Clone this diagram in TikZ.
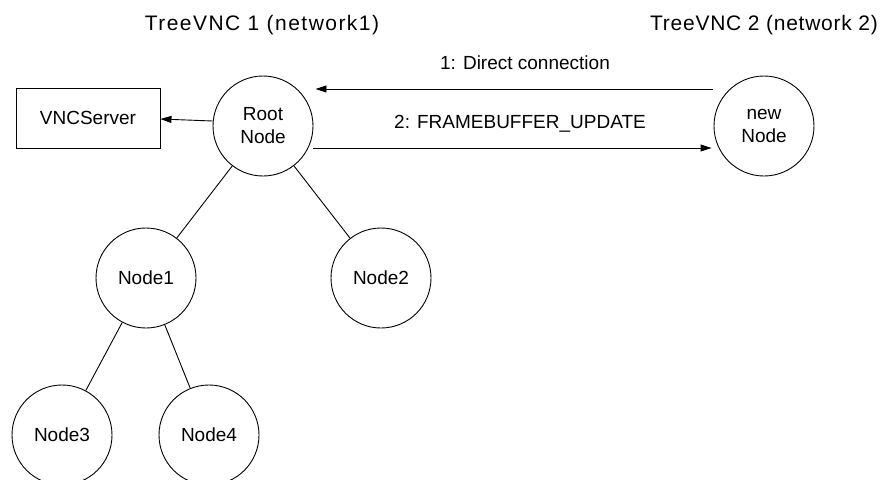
\documentclass[tikz,border=0pt]{standalone}
\usepackage{fontspec}
\setmainfont{Liberation Sans}
\usetikzlibrary{arrows.meta}
\begin{document}
\begin{tikzpicture}[x=1pt,y=-1pt,
  every node/.style={font=\fontsize{19}{23}\selectfont},
  circ/.style={draw,circle,minimum size=100pt,inner sep=0pt,align=center,line width=0.9pt},
  boxn/.style={draw,rectangle,minimum width=144pt,minimum height=60pt,inner sep=0pt,line width=0.9pt},
  arr/.style={line width=0.9pt,-{Triangle[length=11pt,width=7pt]}},
  edge/.style={line width=0.9pt}]
\useasboundingbox (0,0) rectangle (883,479);
\node[font=\fontsize{21}{24}\selectfont\addfontfeature{LetterSpace=7}] (t1) at (262,25) {TreeVNC 1 (network1)};
\node[font=\fontsize{21}{24}\selectfont\addfontfeature{LetterSpace=3.5}] (t2) at (764,25) {TreeVNC 2 (network 2)};
\node[circ] (root) at (263,126) {Root\\Node};
\node[circ] (new) at (764,126) {new\\Node};
\node[boxn] (vnc) at (88,118) {VNCServer};
\node[circ] (n1) at (146,278) {Node1};
\node[circ] (n2) at (381,278) {Node2};
\node[circ] (n3) at (62,435) {Node3};
\node[circ] (n4) at (209,435) {Node4};
\node (l1) at (525,63) {1: Direct connection};
\node (l2) at (520,124) {2: FRAMEBUFFER\_UPDATE};
\draw[arr] ([yshift=5pt]root.west) -- ([yshift=-1pt]vnc.east);
\draw[arr] ([xshift=-1pt,yshift=37pt]new.west) -- ([xshift=2pt,yshift=37pt]root.east);
\draw[arr] ([yshift=-22pt]root.east) -- ([xshift=-2pt,yshift=-22pt]new.west);
\draw[edge] (root) -- (n1);
\draw[edge] (root) -- (n2);
\draw[edge] (n1) -- (n3);
\draw[edge] (n1) -- (n4);
\end{tikzpicture}
\end{document}
